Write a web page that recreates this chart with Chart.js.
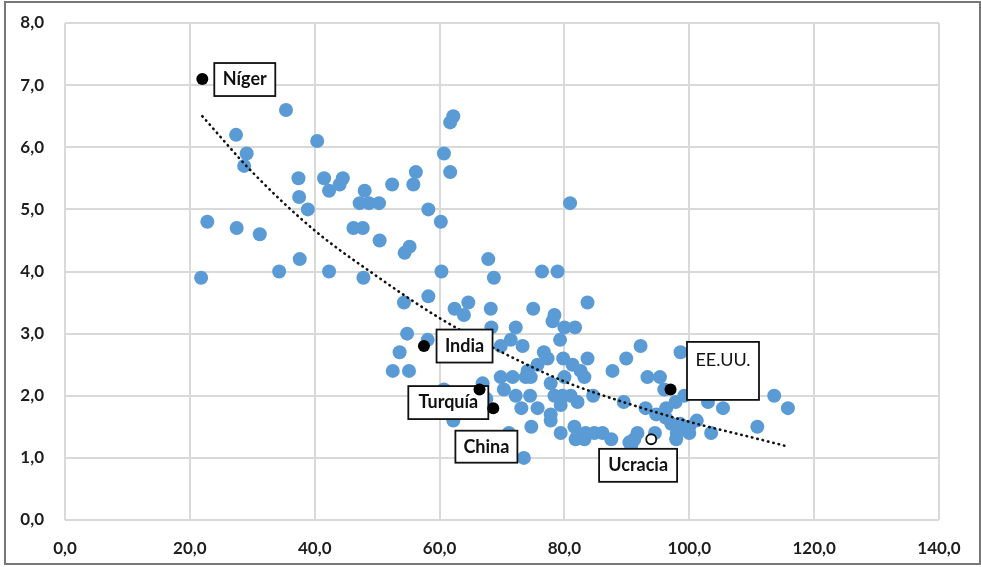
<!DOCTYPE html>
<html>
<head>
<meta charset="utf-8">
<script src="https://cdn.jsdelivr.net/npm/chart.js@4/dist/chart.umd.min.js"></script>
<style>
  html, body { margin: 0; padding: 0; background: #fff; }
  canvas { display: block; }
</style>
</head>
<body>
<canvas id="chart" width="981" height="567"></canvas>
<script>
// blue dots: all countries
const countryX = [
  21.8, 22.8, 27.4, 27.5, 29.1, 28.7, 31.2, 34.3, 35.4, 37.4, 37.5, 37.6, 38.9, 40.4, 41.5, 42.3, 42.3, 44.0, 44.5, 46.2,
  47.7, 47.2, 48.0, 48.7, 47.8, 50.3, 50.4, 52.4, 54.4, 55.2, 55.8, 56.2, 58.2, 60.2, 60.7, 61.7, 61.7, 62.2, 60.3, 67.8,
  68.7, 76.4, 78.9, 80.9, 54.3, 54.8, 53.6, 52.5, 55.1, 58.2, 58.1, 62.4, 64.6, 63.9, 68.2, 68.3, 75.0, 78.4, 78.1, 83.7,
  72.2, 80.0, 81.7, 69.8, 71.4, 73.3, 79.3, 76.7, 75.7, 77.3, 79.8, 81.3, 83.7, 82.6, 87.7, 89.9, 74.1, 69.8, 71.7, 73.8,
  66.9, 60.7, 62.2, 70.3, 72.2, 74.5, 73.1, 75.7, 77.8, 78.4, 79.7, 81.0, 82.1, 79.4, 77.8, 77.8, 79.4, 81.6, 81.8, 83.4,
  84.8, 86.1, 83.2, 87.5, 74.7, 71.1, 73.5, 84.6, 89.5, 83.2, 80.0, 92.2, 98.6, 93.3, 95.3, 96.0, 102.2, 99.2, 103.0, 105.4,
  113.6, 115.8, 110.9, 93.0, 94.7, 96.3, 97.8, 96.2, 97.1, 98.5, 100.0, 101.2, 98.0, 100.0, 97.9, 103.5, 91.7, 94.5, 91.2, 90.7,
  67.5, 74.6, 82.1, 90.4
];
const countryY = [
  3.9, 4.8, 6.2, 4.7, 5.9, 5.7, 4.6, 4.0, 6.6, 5.5, 5.2, 4.2, 5.0, 6.1, 5.5, 5.3, 4.0, 5.4, 5.5, 4.7,
  4.7, 5.1, 5.3, 5.1, 3.9, 5.1, 4.5, 5.4, 4.3, 4.4, 5.4, 5.6, 5.0, 4.8, 5.9, 5.6, 6.4, 6.5, 4.0, 4.2,
  3.9, 4.0, 4.0, 5.1, 3.5, 3.0, 2.7, 2.4, 2.4, 3.6, 2.9, 3.4, 3.5, 3.3, 3.4, 3.1, 3.4, 3.3, 3.2, 3.5,
  3.1, 3.1, 3.1, 2.8, 2.9, 2.8, 2.9, 2.7, 2.5, 2.6, 2.6, 2.5, 2.6, 2.4, 2.4, 2.6, 2.4, 2.3, 2.3, 2.3,
  2.2, 2.1, 1.6, 2.1, 2.0, 2.0, 1.8, 1.8, 2.2, 2.0, 2.0, 2.0, 1.9, 1.85, 1.7, 1.6, 1.4, 1.5, 1.3, 1.4,
  1.4, 1.4, 1.3, 1.3, 1.5, 1.4, 1.0, 2.0, 1.9, 2.3, 2.3, 2.8, 2.7, 2.3, 2.3, 2.1, 2.1, 2.0, 1.9, 1.8,
  2.0, 1.8, 1.5, 1.8, 1.7, 1.8, 1.9, 1.65, 1.55, 1.55, 1.5, 1.6, 1.4, 1.4, 1.3, 1.4, 1.4, 1.4, 1.3, 1.2,
  1.95, 2.3, 1.35, 1.25
];

// highlighted countries (black dots)
const markedNames = ['Níger', 'India', 'Turquía', 'China', 'EE.UU.'];
const markedX = [22.0, 57.5, 66.4, 68.6, 97.0];
const markedY = [7.1, 2.8, 2.1, 1.8, 2.1];

// Ucrania shown as an open circle
const openX = [93.9];
const openY = [1.3];

// dotted trend line
const trendX = [22, 30, 40, 50, 60, 70, 80, 90, 100, 110, 115.5];
const trendY = [6.5, 5.6, 4.66, 3.92, 3.25, 2.7, 2.23, 1.88, 1.58, 1.33, 1.19];

const xTicks = [0, 20, 40, 60, 80, 100, 120, 140];
const yTicks = [0, 1, 2, 3, 4, 5, 6, 7, 8];

const pts = (xs, ys) => xs.map((x, i) => ({ x: x, y: ys[i] }));
const fmt = v => Number(v).toFixed(1).replace('.', ',');
const FONT = 'Lato, "Open Sans", sans-serif';

// label boxes: centre in data units, size in px
const callouts = [
  { text: 'Níger',   x: 28.8,  y: 7.09, w: 61, h: 33, bold: true,  dy: 0 },
  { text: 'India',   x: 64.0,  y: 2.80, w: 56, h: 33, bold: true,  dy: 0 },
  { text: 'Turquía', x: 61.4,  y: 1.89, w: 80, h: 33, bold: true,  dy: 0 },
  { text: 'China',   x: 67.5,  y: 1.18, w: 62, h: 32, bold: true,  dy: 0 },
  { text: 'Ucracia', x: 91.8,  y: 0.88, w: 78, h: 33, bold: true,  dy: 0 },
  { text: 'EE.UU.',  x: 105.4, y: 2.40, w: 72, h: 58, bold: false, dy: -11 }
];

// boxes go above the blue dots and trend, below the black dots
const calloutPlugin = {
  id: 'callouts',
  afterDatasetDraw(chart, args) {
    if (args.index !== 2) return;
    const ctx = chart.ctx;
    const sx = chart.scales.x, sy = chart.scales.y;
    ctx.save();
    callouts.forEach(c => {
      const cx = sx.getPixelForValue(c.x);
      const cy = sy.getPixelForValue(c.y);
      ctx.fillStyle = '#fff';
      ctx.fillRect(cx - c.w / 2, cy - c.h / 2, c.w, c.h);
      ctx.lineWidth = 1.8;
      ctx.strokeStyle = '#111';
      ctx.strokeRect(cx - c.w / 2, cy - c.h / 2, c.w, c.h);
      ctx.fillStyle = '#111';
      ctx.font = (c.bold ? 'bold ' : '') + '18px ' + FONT;
      ctx.textAlign = 'center';
      ctx.textBaseline = 'middle';
      ctx.fillText(c.text, cx, cy + c.dy);
    });
    ctx.restore();
  }
};

const framePlugin = {
  id: 'frame',
  afterDraw(chart) {
    const ctx = chart.ctx;
    ctx.save();
    ctx.strokeStyle = '#777';
    ctx.lineWidth = 2;
    ctx.strokeRect(5, 2, 975, 562);
    ctx.restore();
  }
};

new Chart(document.getElementById('chart'), {
  type: 'scatter',
  data: {
    datasets: [
      {
        label: 'Destacados',
        data: pts(markedX, markedY),
        order: 0,
        pointRadius: 6,
        pointBackgroundColor: '#000',
        pointBorderColor: '#000',
        pointBorderWidth: 0
      },
      {
        label: 'Ucrania',
        data: pts(openX, openY),
        order: 0,
        pointRadius: 5,
        pointBackgroundColor: '#fff',
        pointBorderColor: '#111',
        pointBorderWidth: 1.8
      },
      {
        label: 'Tendencia',
        data: pts(trendX, trendY),
        order: 1,
        showLine: true,
        pointRadius: 0,
        borderColor: '#111',
        borderWidth: 2.6,
        borderDash: [0.5, 5],
        borderCapStyle: 'round',
        cubicInterpolationMode: 'monotone',
        fill: false
      },
      {
        label: 'Países',
        data: pts(countryX, countryY),
        order: 2,
        pointRadius: 7,
        pointBackgroundColor: '#5b9bd5',
        pointBorderColor: '#5b9bd5',
        pointBorderWidth: 0
      }
    ]
  },
  options: {
    responsive: false,
    animation: false,
    events: [],
    layout: { autoPadding: false, padding: { top: 23, right: 42, bottom: 0, left: 0 } },
    plugins: {
      legend: { display: false },
      tooltip: { enabled: false }
    },
    scales: {
      x: {
        type: 'linear',
        min: 0,
        max: 140,
        afterBuildTicks: s => { s.ticks = xTicks.map(v => ({ value: v })); },
        afterFit: s => { s.height = 47; s.paddingLeft = 0; s.paddingRight = 0; },
        grid: { color: '#d9d9d9', lineWidth: 2, drawTicks: false },
        border: { display: false },
        ticks: {
          padding: 18,
          color: '#1e1e1e',
          font: { family: FONT, size: 17, weight: 'bold' },
          maxRotation: 0,
          callback: v => fmt(v)
        }
      },
      y: {
        type: 'linear',
        min: 0,
        max: 8,
        afterBuildTicks: s => { s.ticks = yTicks.map(v => ({ value: v })); },
        afterFit: s => { s.width = 65; s.paddingTop = 0; s.paddingBottom = 0; },
        grid: { color: '#d9d9d9', lineWidth: 2, drawTicks: false },
        border: { display: false },
        ticks: {
          padding: 21,
          color: '#1e1e1e',
          font: { family: FONT, size: 17, weight: 'bold' },
          callback: v => fmt(v)
        }
      }
    }
  },
  plugins: [calloutPlugin, framePlugin]
});
</script>
</body>
</html>
